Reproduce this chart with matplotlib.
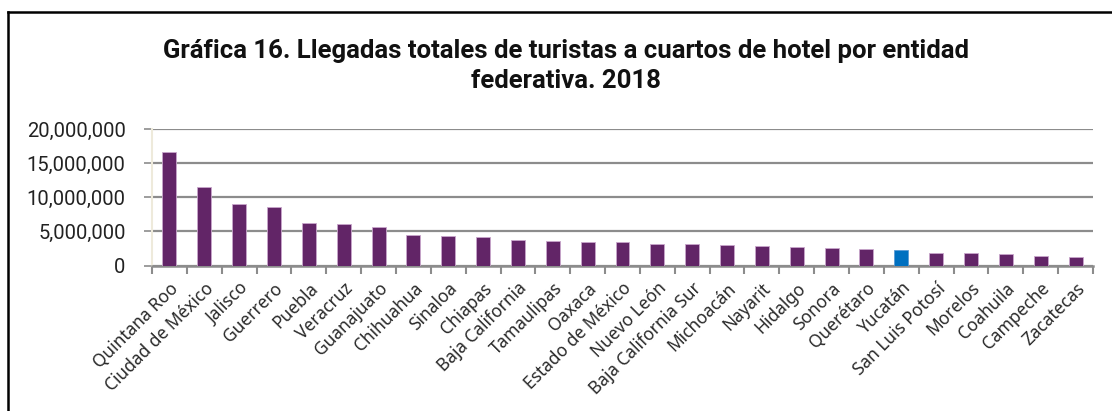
import matplotlib
matplotlib.use("Agg")
import matplotlib.pyplot as plt
from matplotlib.lines import Line2D
from matplotlib.ticker import FuncFormatter, FixedLocator
import numpy as np

entidades = ["Quintana Roo", "Ciudad de México", "Jalisco", "Guerrero", "Puebla",
             "Veracruz", "Guanajuato", "Chihuahua", "Sinaloa", "Chiapas",
             "Baja California", "Tamaulipas", "Oaxaca", "Estado de México",
             "Nuevo León", "Baja California Sur", "Michoacán", "Nayarit", "Hidalgo",
             "Sonora", "Querétaro", "Yucatán", "San Luis Potosí", "Morelos",
             "Coahuila", "Campeche", "Zacatecas"]
llegadas = [16670000, 11540000, 8950000, 8610000, 6160000, 6010000, 5620000,
            4450000, 4350000, 4210000, 3680000, 3600000, 3500000, 3410000,
            3160000, 3110000, 3010000, 2910000, 2660000, 2610000, 2470000,
            2260000, 1900000, 1860000, 1700000, 1450000, 1310000]
resaltado = "Yucatán"

W, H = 1112, 411
fig = plt.figure(figsize=(W / 100, H / 100), dpi=100)
fig.patch.set_facecolor("white")

ax = fig.add_axes([152 / W, 1 - 265.5 / H, (1093 - 152) / W, (265.5 - 129) / H])

x = np.arange(len(entidades))
colores = ["#0070c0" if e == resaltado else "#622567" for e in entidades]
bordes = ["#5b9bd5" if e == resaltado else "#c9a6cc" for e in entidades]
ax.bar(x, llegadas, width=0.4, color=colores, edgecolor=bordes, linewidth=0.6, zorder=3)

ax.set_xlim(-0.5, len(entidades) - 0.5)
ax.set_ylim(0, 20000000)
ax.set_yticks(np.arange(0, 20000001, 5000000))
ax.yaxis.set_major_formatter(FuncFormatter(lambda v, p: f"{int(v):,}"))
ax.grid(axis="y", color="#8c8c8c", linewidth=1.6, zorder=0)

for s in ["top", "right"]:
    ax.spines[s].set_visible(False)
ax.spines["left"].set_color("#eeeadb")
ax.spines["left"].set_linewidth(1.5)
ax.spines["bottom"].set_color("#8c8c8c")
ax.spines["bottom"].set_linewidth(1.8)

ax.tick_params(axis="y", length=6, width=1.2, color="#8c8c8c", pad=13,
               labelsize=14.5, labelcolor="#222222")
for t in ax.get_yticklabels():
    t.set_family("Roboto")

ax.set_xticks(x)
ax.set_xticklabels(entidades, rotation=45, ha="right", rotation_mode="anchor",
                   fontsize=12.5, color="#2a2a2a", family="Noto Sans")
ax.tick_params(axis="x", which="major", length=0, pad=10)
ax.xaxis.set_minor_locator(FixedLocator(np.arange(-0.5, len(entidades), 1)))
ax.tick_params(axis="x", which="minor", length=6, width=1.5, color="#8c8c8c")

fig.text(566 / W, 1 - 66 / H,
         "Gráfica 16. Llegadas totales de turistas a cuartos de hotel por entidad\nfederativa. 2018",
         ha="center", va="center", fontsize=18.5, fontweight="bold", family="Roboto",
         linespacing=1.35, color="#111111")

# marco del gráfico
fig.add_artist(Line2D([8 / W, 8 / W], [0, 1 - 12 / H], transform=fig.transFigure,
                      color="black", linewidth=1.8))
fig.add_artist(Line2D([8 / W, 1], [1 - 12 / H, 1 - 12 / H], transform=fig.transFigure,
                      color="black", linewidth=1.8))

fig.savefig("out.png", dpi=100)
